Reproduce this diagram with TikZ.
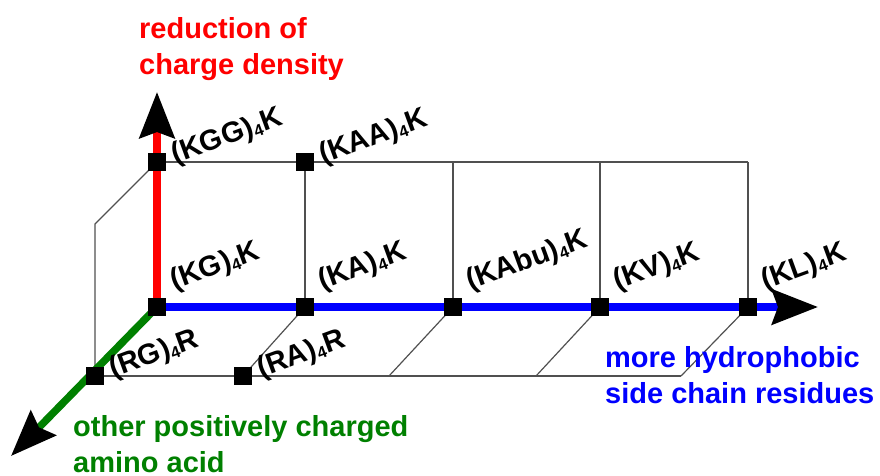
\documentclass[tikz,border=0pt]{standalone}
\usepackage{fontspec}
\setmainfont{Liberation Sans}
\usetikzlibrary{arrows.meta,calc}
\definecolor{axred}{RGB}{255,0,0}
\definecolor{axblue}{RGB}{0,0,255}
\definecolor{axgreen}{RGB}{0,128,0}
\definecolor{framegray}{RGB}{80,80,80}
% small lowered index digit
\newcommand\subfour{\raisebox{-0.1em}{\fontsize{16.5}{16.5}\selectfont 4}}

\begin{document}
\begin{tikzpicture}[x=1pt,y=-1pt,
  frame/.style={draw=framegray, line width=1.2pt},
  axis/.style={line width=7.5pt, -{Stealth[length=46pt,width=35pt,inset=6pt,color=black]}},
  sample/.style={fill=black, minimum size=17.5pt, inner sep=0pt, outer sep=0pt},
  tag/.style={font=\fontsize{29}{33}\selectfont\bfseries, rotate=20, anchor=base west, inner sep=0pt},
  caption/.style={font=\fontsize{29}{35.5}\selectfont\bfseries, align=left, anchor=base west, inner sep=0pt}]
\useasboundingbox (0,0) rectangle (880,475);

% grid points
\coordinate (kg)   at (157,307);
\coordinate (ka)   at (305,307);
\coordinate (kabu) at (453,307);
\coordinate (kv)   at (600,307);
\coordinate (kl)   at (748,307);
\coordinate (kgg)  at (157,162);
\coordinate (kaa)  at (305,162);
\coordinate (rg)   at (95,376);
\coordinate (ra)   at (243,376);
\coordinate (t3)   at (453,162);
\coordinate (t4)   at (600,162);
\coordinate (t5)   at (748,162);
\coordinate (b3)   at (389,376);
\coordinate (b4)   at (536,376);
\coordinate (b5)   at (681,376);
\coordinate (lb)   at (95,224);
\coordinate (up)   at (157,92);
\coordinate (right) at (818,307);
\coordinate (down) at (11,456);

% thin frame
\draw[frame] (kgg) -- (kaa) -- (t3) -- (t4) -- (t5);
\draw[frame] (kaa) -- (ka);
\draw[frame] (t3) -- (kabu);
\draw[frame] (t4) -- (kv);
\draw[frame] (t5) -- (kl);
\draw[frame] (kgg) -- (lb) -- (rg);
\draw[frame] (rg) -- (ra) -- (b3) -- (b4) -- (b5);
\draw[frame] (ka) -- (ra);
\draw[frame] (kabu) -- (b3);
\draw[frame] (kv) -- (b4);
\draw[frame] (kl) -- (b5);

% axes
\draw[axis, axblue] (kg) -- (right);
\draw[axis, axred] (kg) -- (up);
\draw[axis, axgreen] (kg) -- (down);

% sample squares
\foreach \p in {kg,ka,kabu,kv,kl,kgg,kaa,rg,ra}
  \node[sample] (sq-\p) at (\p) {};

% sample labels
\node[tag] (lkg)   at ($(kg)+(17,-17)$)   {(KG)\subfour K};
\node[tag] (lka)   at ($(ka)+(17,-17)$)   {(KA)\subfour K};
\node[tag] (lkabu) at ($(kabu)+(17,-17)$) {(KAbu)\subfour K};
\node[tag] (lkv)   at ($(kv)+(17,-17)$)   {(KV)\subfour K};
\node[tag] (lkl)   at ($(kl)+(17,-17)$)   {(KL)\subfour K};
\node[tag] (lkgg)  at ($(kgg)+(18,2)$)    {(KGG)\subfour K};
\node[tag] (lkaa)  at ($(kaa)+(18,2)$)    {(KAA)\subfour K};
\node[tag] (lrg)   at ($(rg)+(18,2)$)     {(RG)\subfour R};
\node[tag] (lra)   at ($(ra)+(18,2)$)     {(RA)\subfour R};

% axis captions (anchored on the baseline of the last line)
\node[caption, text=axred]   (capred)   at (139,74)  {reduction of\\charge density};
\node[caption, text=axblue]  (capblue)  at (605,403) {more hydrophobic\\side chain residues};
\node[caption, text=axgreen] (capgreen) at (73,472)  {other positively charged\\amino acid};
\end{tikzpicture}
\end{document}
